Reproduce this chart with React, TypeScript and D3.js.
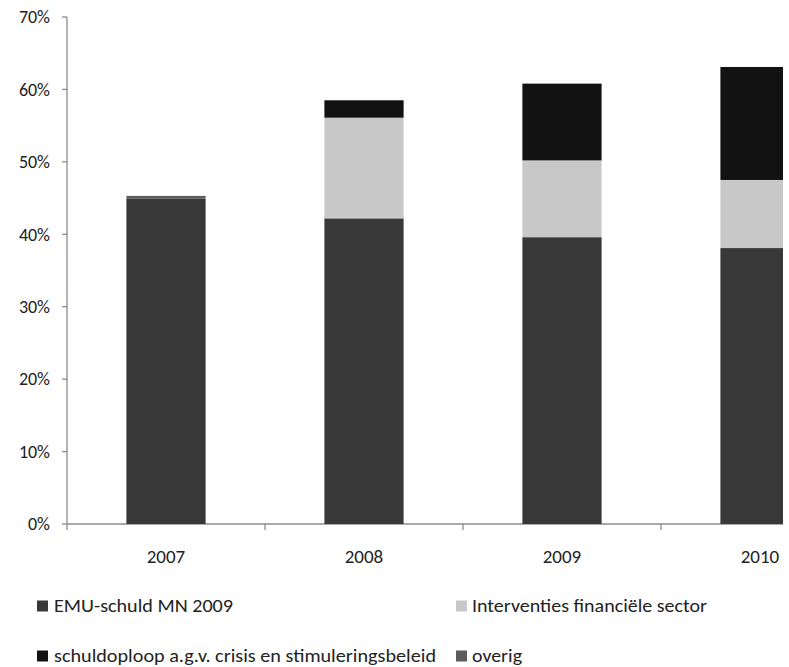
import React from "react";
import * as d3 from "d3";

const years = ["2007", "2008", "2009", "2010"];
const emuSchuld = [44.9, 42.2, 39.6, 38.1];
const interventies = [0, 13.9, 10.6, 9.4];
const schuldoploop = [0, 2.4, 10.6, 15.6];
const overig = [0.4, 0, 0, 0];
const seriesNames = [
  "EMU-schuld MN 2009",
  "Interventies financiële sector",
  "schuldoploop a.g.v. crisis en stimuleringsbeleid",
  "overig",
];
const seriesColors = ["#383838", "#c8c8c8", "#121212", "#5c5c5c"];
const yTicks = [0, 10, 20, 30, 40, 50, 60, 70];

const W = 789;
const H = 667;
const FONT = "Carlito, Calibri, Lato, sans-serif";

export default function App() {
  const rows = years.map((y, i) => ({
    year: y,
    s0: emuSchuld[i],
    s1: interventies[i],
    s2: schuldoploop[i],
    s3: overig[i],
  }));
  const keys = ["s0", "s1", "s2", "s3"];
  const stacked = d3.stack<any>().keys(keys)(rows);

  const x0 = 67;
  const step = 198;
  const x = d3
    .scaleBand<string>()
    .domain(years)
    .range([x0, x0 + step * years.length])
    .paddingInner(0.6)
    .paddingOuter(0.3);
  const y = d3.scaleLinear().domain([0, 70]).range([524, 17]);

  const axisColor = "#8c8c8c";
  const boundaries = d3.range(years.length + 1).map((i) => x0 + step * i);

  const legend = [
    { i: 0, sx: 37, tx: 54, cy: 606, len: 179 },
    { i: 1, sx: 456, tx: 472, cy: 606, len: 235 },
    { i: 2, sx: 37, tx: 54, cy: 656, len: 382 },
    { i: 3, sx: 456, tx: 472, cy: 656, len: 50 },
  ];

  return (
    <div style={{ position: "absolute", left: 0, top: 0 }}>
      <svg width={W} height={H} style={{ display: "block", background: "#fff" }}>
        <defs>
          <clipPath id="plotclip">
            <rect x={0} y={0} width={783} height={H} />
          </clipPath>
        </defs>
        <g clipPath="url(#plotclip)">
          <line x1={x0} x2={x0 + step * years.length} y1={y(0)} y2={y(0)} stroke={axisColor} strokeWidth={1.3} />
          {boundaries.map((b, i) => (
            <line key={"xt" + i} x1={b} x2={b} y1={y(0)} y2={y(0) + 6} stroke={axisColor} strokeWidth={1.3} />
          ))}
          {stacked.map((layer, li) => (
            <g key={"l" + li} fill={seriesColors[li]}>
              {layer.map((d, j) =>
                d[1] - d[0] > 0 ? (
                  <rect
                    key={j}
                    x={x(years[j])}
                    width={x.bandwidth()}
                    y={y(d[1])}
                    height={y(d[0]) - y(d[1])}
                  />
                ) : null
              )}
            </g>
          ))}
          {years.map((yr) => (
            <text
              key={"xl" + yr}
              x={(x(yr) as number) + x.bandwidth() / 2}
              y={563}
              textAnchor="middle"
              fontFamily={FONT}
              fontSize={19}
              fill="#222"
            >
              {yr}
            </text>
          ))}
        </g>
        <line x1={x0} x2={x0} y1={y(70)} y2={y(0)} stroke={axisColor} strokeWidth={1.3} />
        {yTicks.map((t) => (
          <g key={"yt" + t}>
            <line x1={x0 - 5} x2={x0} y1={y(t)} y2={y(t)} stroke={axisColor} strokeWidth={1.3} />
            <text
              x={50}
              y={y(t)}
              dy="0.35em"
              textAnchor="end"
              fontFamily={FONT}
              fontSize={18}
              fill="#222"
            >
              {t + "%"}
            </text>
          </g>
        ))}
        {legend.map((l) => (
          <g key={"lg" + l.i}>
            <rect x={l.sx} y={l.cy - 5.5} width={11} height={11} fill={seriesColors[l.i]} />
            <text
              x={l.tx}
              y={l.cy}
              dy="0.36em"
              fontFamily={FONT}
              fontSize={18}
              fill="#222"
              textLength={l.len}
              lengthAdjust="spacingAndGlyphs"
            >
              {seriesNames[l.i]}
            </text>
          </g>
        ))}
      </svg>
    </div>
  );
}
